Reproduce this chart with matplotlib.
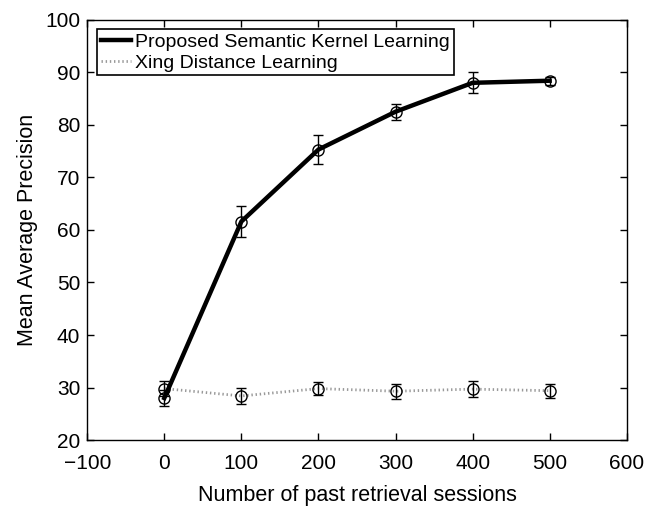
import matplotlib
matplotlib.use("Agg")
import matplotlib.pyplot as plt

plt.rcParams['font.family'] = ['Liberation Sans', 'DejaVu Sans']

sessions = [0, 100, 200, 300, 400, 500]
proposed = [28.0, 61.6, 75.3, 82.5, 88.0, 88.4]
proposed_err = [1.5, 3.0, 2.7, 1.5, 2.0, 0.8]
xing = [29.8, 28.4, 29.8, 29.3, 29.7, 29.4]
xing_err = [1.5, 1.5, 1.2, 1.4, 1.5, 1.3]

labels = ['Proposed Semantic Kernel Learning', 'Xing Distance Learning']

fig = plt.figure(figsize=(6.66, 5.07), dpi=100)
ax = fig.add_axes([0.131, 0.132, 0.810, 0.829])

l1, = ax.plot(sessions, proposed, color='black', lw=3.2, zorder=3)
ax.errorbar(sessions, proposed, yerr=proposed_err, fmt='o', mfc='none', mec='black',
            ms=8, mew=1.0, ecolor='black', elinewidth=1.0, capsize=3.5, capthick=1.0, zorder=4)
l2, = ax.plot(sessions, xing, color='#999999', lw=2, linestyle=(0, (0.5, 1.0)), zorder=2)
ax.errorbar(sessions, xing, yerr=xing_err, fmt='o', mfc='none', mec='black',
            ms=8, mew=1.0, ecolor='black', elinewidth=1.0, capsize=3.5, capthick=1.0, zorder=4)

ax.set_xlim(-100, 600)
ax.set_ylim(20, 100)
ax.set_xticks(range(-100, 601, 100))
ax.set_xticklabels(['\u2212100', '0', '100', '200', '300', '400', '500', '600'])
ax.set_yticks(range(20, 101, 10))
ax.tick_params(direction='in', top=True, right=True, labelsize=15, length=5, width=1)
ax.tick_params(axis='x', pad=10)
ax.tick_params(axis='y', pad=5)
for s in ax.spines.values():
    s.set_linewidth(1.0)

ax.set_xlabel('Number of past retrieval sessions', fontsize=15.5, labelpad=9)
ax.set_ylabel('Mean Average Precision', fontsize=15.5, labelpad=5)

leg = ax.legend([l1, l2], labels, loc='upper left', fontsize=14, frameon=True,
                fancybox=False, edgecolor='black', framealpha=1, handlelength=1.55,
                handletextpad=0.2, borderpad=0.2, labelspacing=0.15,
                borderaxespad=0.5)
leg.get_frame().set_linewidth(1.2)

fig.savefig('out.png', dpi=100)
